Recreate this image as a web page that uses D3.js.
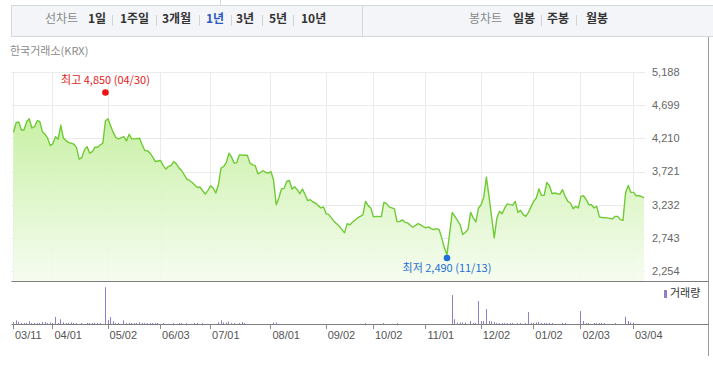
<!DOCTYPE html>
<html>
<head>
<meta charset="utf-8">
<script src="https://cdn.jsdelivr.net/npm/d3@7"></script>
<style>
  body { margin: 0; background: #fff; }
  svg { display: block; }
  .num { font-family: "Liberation Sans", Arial, sans-serif; }
  .kr { font-family: "Noto Sans CJK KR", "Noto Sans", sans-serif; }
</style>
</head>
<body>
<svg id="chart" width="713" height="368"></svg>
<script>
// 1년 일별 종가 (거래일 번호, 종가)
const closes = [
  [0,4307],[1,4448],[2,4458],[3,4341],[4,4341],[5,4463],[6,4507],[7,4370],[8,4389],[9,4477],
  [10,4468],[11,4316],[12,4278],[13,4219],[14,4110],[15,4140],[16,4242],[17,4204],[18,4410],[19,4219],
  [20,4184],[21,4154],[22,4145],[23,4131],[24,4081],[25,3910],[26,3934],[27,4047],[28,4095],[29,3999],
  [30,4022],[31,4087],[32,4087],[33,4120],[34,4145],[35,4477],[36,4507],[37,4399],[38,4301],[39,4228],
  [40,4209],[42,4242],[43,4179],[44,4278],[45,4209],[46,4209],[48,4219],[49,4120],[50,4037],[51,4032],
  [52,3999],[53,3940],[54,3875],[56,3890],[57,3816],[58,3764],[59,3805],[60,3816],[61,3875],[62,3841],
  [63,3778],[64,3743],[65,3680],[66,3617],[67,3596],[68,3567],[70,3493],[71,3499],[72,3445],[73,3396],
  [74,3449],[75,3518],[76,3485],[77,3411],[78,3533],[79,3778],[80,3802],[81,3860],[82,3999],[83,3940],
  [84,3852],[85,3860],[86,3974],[88,3969],[89,3969],[90,3852],[91,3827],[92,3816],[93,3695],[94,3714],
  [95,3743],[96,3714],[97,3705],[98,3728],[99,3600],[100,3239],[101,3338],[102,3470],[103,3479],[104,3581],
  [105,3596],[106,3470],[107,3504],[108,3460],[109,3401],[110,3470],[111,3386],[112,3298],[113,3313],[114,3279],
  [115,3264],[116,3225],[117,3191],[118,3206],[119,3107],[120,3092],[121,3044],[122,2994],[124,2921],[125,2872],
  [126,2824],[127,2960],[128,2941],[129,2979],[131,3044],[132,3067],[133,3088],[134,3288],[135,3225],[136,3191],
  [137,3059],[138,3067],[140,3063],[141,3273],[142,3254],[143,3206],[145,3176],[146,2990],[147,2990],[148,3015],
  [149,2979],[150,2971],[151,2935],[152,2906],[154,2960],[155,2941],[156,2916],[157,2897],[158,2912],[159,2887],
  [160,2872],[161,2887],[162,2872],[163,2750],[164,2603],[165,2500],[167,3126],[168,3067],[170,2946],[171,2799],
  [172,2833],[173,2872],[174,3126],[175,3044],[176,2985],[177,3191],[178,3239],[179,3350],[180,3646],[181,3361],
  [183,2750],[184,3044],[185,3141],[186,3107],[187,3191],[188,3250],[190,3229],[191,3288],[192,3126],[193,3156],
  [194,3092],[195,3067],[196,3126],[197,3206],[198,3288],[199,3338],[200,3470],[201,3376],[202,3376],[203,3567],
  [204,3518],[205,3401],[206,3411],[207,3401],[208,3396],[209,3460],[210,3361],[211,3288],[212,3264],[213,3181],
  [214,3214],[215,3191],[216,3361],[217,3371],[218,3313],[219,3239],[220,3239],[221,3191],[222,3214],[223,3059],
  [224,3050],[226,3044],[228,3029],[229,3067],[230,3067],[231,3019],[232,3009],[233,3420],[234,3523],[235,3420],
  [236,3420],[237,3371],[238,3371],[239,3360],[240,3338]
];

// 거래량 (거래일 번호, 상대 거래량)
const volumes = [
  [0,54],[1,101],[2,54],[3,27],[4,27],[5,27],[6,74],[7,27],[8,27],[9,27],[10,27],[11,54],[12,54],[13,27],
  [14,41],[15,27],[16,191],[17,27],[18,128],[19,47],[20,27],[21,27],[22,41],[23,27],[24,27],[26,27],[28,27],
  [29,27],[30,27],[31,27],[32,27],[33,27],[35,1000],[36,109],[37,191],[38,74],[39,27],[40,27],[42,101],[43,27],
  [44,27],[45,27],[46,27],[47,27],[48,47],[49,27],[50,27],[51,27],[52,27],[53,27],[54,27],[55,27],[57,27],
  [61,27],[63,27],[64,27],[66,27],[69,27],[70,27],[72,27],[78,47],[79,101],[80,41],[81,41],[82,63],[83,27],
  [84,27],[86,27],[87,54],[88,27],[99,41],[100,41],[134,27],[141,27],[146,27],[167,790],[168,128],[169,41],
  [170,41],[171,41],[172,41],[174,82],[175,27],[176,27],[177,627],[178,82],[179,82],[180,409],[181,82],[182,74],
  [183,54],[184,27],[185,27],[186,27],[187,27],[188,27],[189,27],[190,27],[192,27],[193,27],[195,27],[196,327],
  [197,27],[198,27],[199,41],[200,54],[201,27],[202,27],[203,27],[204,27],[205,27],[209,27],[210,27],[216,354],
  [217,82],[218,27],[219,27],[221,27],[222,27],[223,27],[224,27],[225,27],[229,27],[233,199],[234,82],[235,41],[236,41]
];

const tickDays = [0, 15, 36, 56, 75, 98, 119, 137, 157, 178, 198, 216, 236];
const tickLabels = ["03/11", "04/01", "05/02", "06/03", "07/01", "08/01", "09/02", "10/02", "11/01", "12/02", "01/02", "02/03", "03/04"];
const priceTicks = [2254, 2743, 3232, 3721, 4210, 4699, 5188];

const high = { day: 35, value: 4850, date: "04/30" };
const low = { day: 165, value: 2490, date: "11/13" };

const lineTabs = ["1일", "1주일", "3개월", "1년", "3년", "5년", "10년"];
const candleTabs = ["일봉", "주봉", "월봉"];

const svg = d3.select("#chart");
const crisp = v => Math.floor(v) + 0.5;

// 스케일
const x = d3.scaleLinear().domain([0, 236]).range([13.5, 633.5]);
const y = d3.scaleLinear().domain([2254, 5188]).range([271.5, 72.5]);
const yVol = d3.scaleLinear().domain([0, 1170]).range([324, 281]);
const plotRight = 645;
const priceBottom = 281;
const volBottom = 324;

// 상단 탭 영역
svg.append("line").attr("x1", 220.5).attr("x2", 220.5).attr("y1", 0).attr("y2", 5)
  .attr("stroke", "#d5d9de");
svg.append("rect").attr("x", 11.5).attr("y", 5.5).attr("width", 703).attr("height", 31)
  .attr("fill", "#f3f5f8").attr("stroke", "#d5d9de");
svg.append("line").attr("x1", 362.5).attr("x2", 362.5).attr("y1", 5.5).attr("y2", 36.5)
  .attr("stroke", "#d5d9de");

function tabGroup(title, titleX, items, xs, seps, active) {
  svg.append("text").attr("class", "kr").attr("x", titleX).attr("y", 20)
    .attr("dominant-baseline", "middle").attr("font-size", 12).attr("fill", "#8a8a8a")
    .text(title);
  svg.selectAll(null).data(items).join("text")
    .attr("class", "kr")
    .attr("x", (d, i) => xs[i]).attr("y", 20)
    .attr("dominant-baseline", "middle")
    .attr("font-size", 12).attr("font-weight", "bold")
    .attr("fill", d => d === active ? "#2f58c0" : "#333")
    .text(d => d);
  svg.selectAll(null).data(seps).join("line")
    .attr("x1", d => crisp(d)).attr("x2", d => crisp(d))
    .attr("y1", 15).attr("y2", 26)
    .attr("stroke", "#d3d3d3");
}
tabGroup("선차트", 45, lineTabs, [88, 120, 162, 206, 236, 269, 301], [112, 156, 199, 231, 262, 293], "1년");
tabGroup("봉차트", 469, candleTabs, [513, 547, 586], [541, 576], null);

svg.append("text").attr("class", "kr").attr("x", 10).attr("y", 52)
  .attr("dominant-baseline", "middle").attr("font-size", 11).attr("fill", "#8a8a8a")
  .text("한국거래소(KRX)");

// 오른쪽 테두리
svg.append("line").attr("x1", 708.5).attr("x2", 708.5).attr("y1", 37).attr("y2", 356)
  .attr("stroke", "#9a9a9a");

// 그리드
svg.selectAll(".hgrid").data(priceTicks).join("line")
  .attr("class", "hgrid")
  .attr("x1", 11.5).attr("x2", plotRight)
  .attr("y1", d => crisp(y(d))).attr("y2", d => crisp(y(d)))
  .attr("stroke", "#ebebeb");
svg.selectAll(".vgrid").data(tickDays).join("line")
  .attr("class", "vgrid")
  .attr("x1", d => crisp(x(d))).attr("x2", d => crisp(x(d)))
  .attr("y1", 72).attr("y2", priceBottom)
  .attr("stroke", "#ebebeb");

// 그라데이션 영역
const grad = svg.append("defs").append("linearGradient")
  .attr("id", "fillGrad").attr("gradientUnits", "userSpaceOnUse")
  .attr("x1", 0).attr("x2", 0).attr("y1", 110).attr("y2", priceBottom);
grad.append("stop").attr("offset", 0).attr("stop-color", "#c3ef9c").attr("stop-opacity", 0.95);
grad.append("stop").attr("offset", 1).attr("stop-color", "#f5fcef").attr("stop-opacity", 0.9);

const area = d3.area()
  .x(d => x(d[0]))
  .y0(priceBottom)
  .y1(d => y(d[1]));
svg.append("path").datum(closes).attr("d", area).attr("fill", "url(#fillGrad)");

const line = d3.line()
  .x(d => x(d[0]))
  .y(d => y(d[1]));
svg.append("path").datum(closes).attr("d", line)
  .attr("fill", "none").attr("stroke", "#6fcb35").attr("stroke-width", 1.4)
  .attr("stroke-linejoin", "round");

// y축 라벨
svg.selectAll(".ylab").data(priceTicks).join("text")
  .attr("class", "ylab num")
  .attr("x", 652).attr("y", d => y(d) + 0.5)
  .attr("dominant-baseline", "middle")
  .attr("font-size", 11).attr("fill", "#666")
  .text(d => d3.format(",")(d));

// 최고 / 최저 표시
svg.append("circle").attr("cx", x(high.day)).attr("cy", y(high.value) - 3).attr("r", 3.3)
  .attr("fill", "#ee1111");
svg.append("text").attr("class", "kr")
  .attr("x", x(high.day)).attr("y", y(high.value) - 14)
  .attr("text-anchor", "middle").attr("dominant-baseline", "middle")
  .attr("font-size", 11).attr("fill", "#e31b1b")
  .text(`최고 ${d3.format(",")(high.value)} (${high.date})`);

svg.append("circle").attr("cx", x(low.day)).attr("cy", y(low.value) + 2.5).attr("r", 3.3)
  .attr("fill", "#1f6fd6");
svg.append("text").attr("class", "kr")
  .attr("x", x(low.day)).attr("y", y(low.value) + 13.5)
  .attr("text-anchor", "middle").attr("dominant-baseline", "middle")
  .attr("font-size", 11).attr("fill", "#1f6fd6")
  .text(`최저 ${d3.format(",")(low.value)} (${low.date})`);

// 가격 패널 하단 선
svg.append("line").attr("x1", 11.5).attr("x2", 709).attr("y1", priceBottom + 0.5).attr("y2", priceBottom + 0.5)
  .attr("stroke", "#7d7d7d");

// 거래량 막대
svg.selectAll(".vol").data(volumes).join("rect")
  .attr("class", "vol")
  .attr("x", d => Math.floor(x(d[0])))
  .attr("width", 1)
  .attr("y", d => yVol(d[1]))
  .attr("height", d => volBottom - yVol(d[1]))
  .attr("fill", "#8f7fc9");

// 거래량 범례
svg.append("rect").attr("x", 664).attr("y", 290).attr("width", 3).attr("height", 8).attr("fill", "#8f7fc9");
svg.append("text").attr("class", "kr").attr("x", 670).attr("y", 294)
  .attr("dominant-baseline", "middle").attr("font-size", 11).attr("fill", "#333")
  .text("거래량");

// x축
svg.append("line").attr("x1", 11.5).attr("x2", 709).attr("y1", volBottom + 0.5).attr("y2", volBottom + 0.5)
  .attr("stroke", "#7d7d7d");
svg.selectAll(".xtick").data(tickDays).join("line")
  .attr("class", "xtick")
  .attr("x1", d => crisp(x(d))).attr("x2", d => crisp(x(d)))
  .attr("y1", volBottom).attr("y2", volBottom + 5)
  .attr("stroke", "#8a8a8a");
svg.selectAll(".xlab").data(tickDays).join("text")
  .attr("class", "xlab num")
  .attr("x", d => x(d) + 1.5).attr("y", 336)
  .attr("dominant-baseline", "middle")
  .attr("font-size", 11).attr("fill", "#555")
  .text((d, i) => tickLabels[i]);
</script>
</body>
</html>
